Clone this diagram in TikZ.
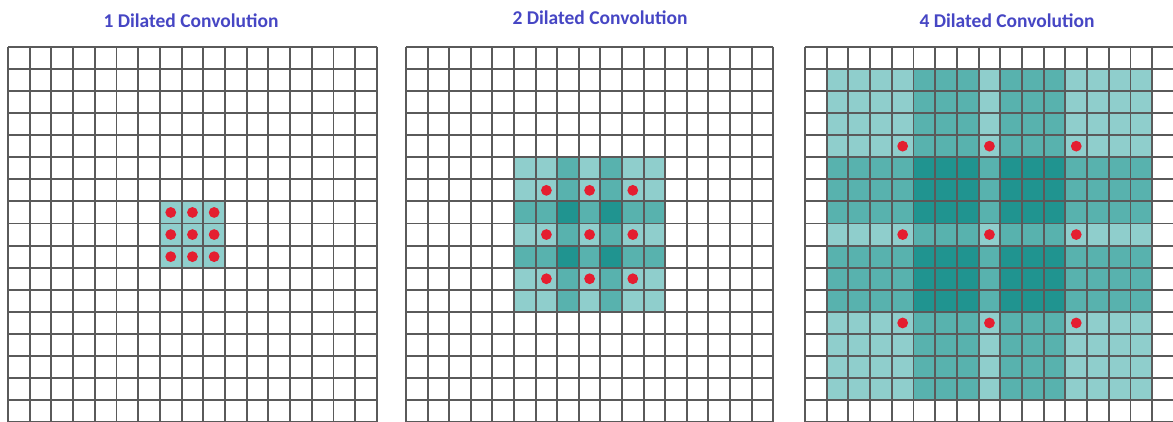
\documentclass[tikz,border=0pt]{standalone}
\usepackage{fontspec}
\setmainfont{Carlito}
\usepackage{xcolor}
\definecolor{titleblue}{RGB}{70,70,196}
\definecolor{linegrey}{RGB}{90,90,90}
\definecolor{teallight}{RGB}{143,206,204}
\definecolor{tealmid}{RGB}{88,178,174}
\definecolor{tealdark}{RGB}{32,148,144}
\definecolor{dotred}{RGB}{228,30,48}

\begin{document}
\begin{tikzpicture}[x=1pt, y=-1pt,
    cellline/.style={linegrey, line width=1.9pt},
    title/.style={font=\bfseries\fontsize{19.5}{22}\selectfont, text=titleblue, inner sep=0pt}]
    \useasboundingbox (0,0) rectangle (1173,421);
    % Titles
    \node[title] (title1) at (191,21) {1 Dilated Convolution};
    \node[title] (title2) at (600,18) {2 Dilated Convolution};
    \node[title] (title3) at (1007,21) {4 Dilated Convolution};

    % 1 dilated: 3x3 field
    \begin{scope}[shift={(8pt,-46.7pt)}, x=21.7pt, y=-22.1pt]
      \fill[teallight] (7,7) rectangle (10,10);
      \foreach \i in {0,...,17}{
        \draw[cellline] (\i,0) -- (\i,17);
        \draw[cellline] (0,\i) -- (17,\i);
      }
      \foreach \c in {7,8,9}
        \foreach \r in {7,8,9}
          \fill[dotred] (\c+0.5,\r+0.5) circle (5.4pt);
    \end{scope}

    % 2 dilated: 7x7 field
    \begin{scope}[shift={(406pt,-46.7pt)}, x=21.6pt, y=-22.1pt]
      \fill[teallight] (5,5) rectangle (12,12);
      \foreach \a in {7,9}{
        \fill[tealmid] (\a,5) rectangle (\a+1,12);
        \fill[tealmid] (5,\a) rectangle (12,\a+1);
      }
      \foreach \a in {7,9}
        \foreach \b in {7,9}
          \fill[tealdark] (\a,\b) rectangle (\a+1,\b+1);
      \foreach \i in {0,...,17}{
        \draw[cellline] (\i,0) -- (\i,17);
        \draw[cellline] (0,\i) -- (17,\i);
      }
      \foreach \c in {6,8,10}
        \foreach \r in {6,8,10}
          \fill[dotred] (\c+0.5,\r+0.5) circle (5.4pt);
    \end{scope}

    % 4 dilated: 15x15 field
    \begin{scope}[shift={(805pt,-46.7pt)}, x=21.7pt, y=-22.1pt]
      \fill[teallight] (1,1) rectangle (16,16);
      \foreach \a in {5,9}{
        \fill[tealmid] (\a,1) rectangle (\a+3,16);
        \fill[tealmid] (1,\a) rectangle (16,\a+3);
      }
      \foreach \a in {5,9}
        \foreach \b in {5,9}
          \fill[tealdark] (\a,\b) rectangle (\a+3,\b+3);
      \foreach \i in {0,...,17}{
        \draw[cellline] (\i,0) -- (\i,17);
        \draw[cellline] (0,\i) -- (17,\i);
      }
      \foreach \c in {4,8,12}
        \foreach \r in {4,8,12}
          \fill[dotred] (\c+0.5,\r+0.5) circle (5.4pt);
    \end{scope}
\end{tikzpicture}
\end{document}
